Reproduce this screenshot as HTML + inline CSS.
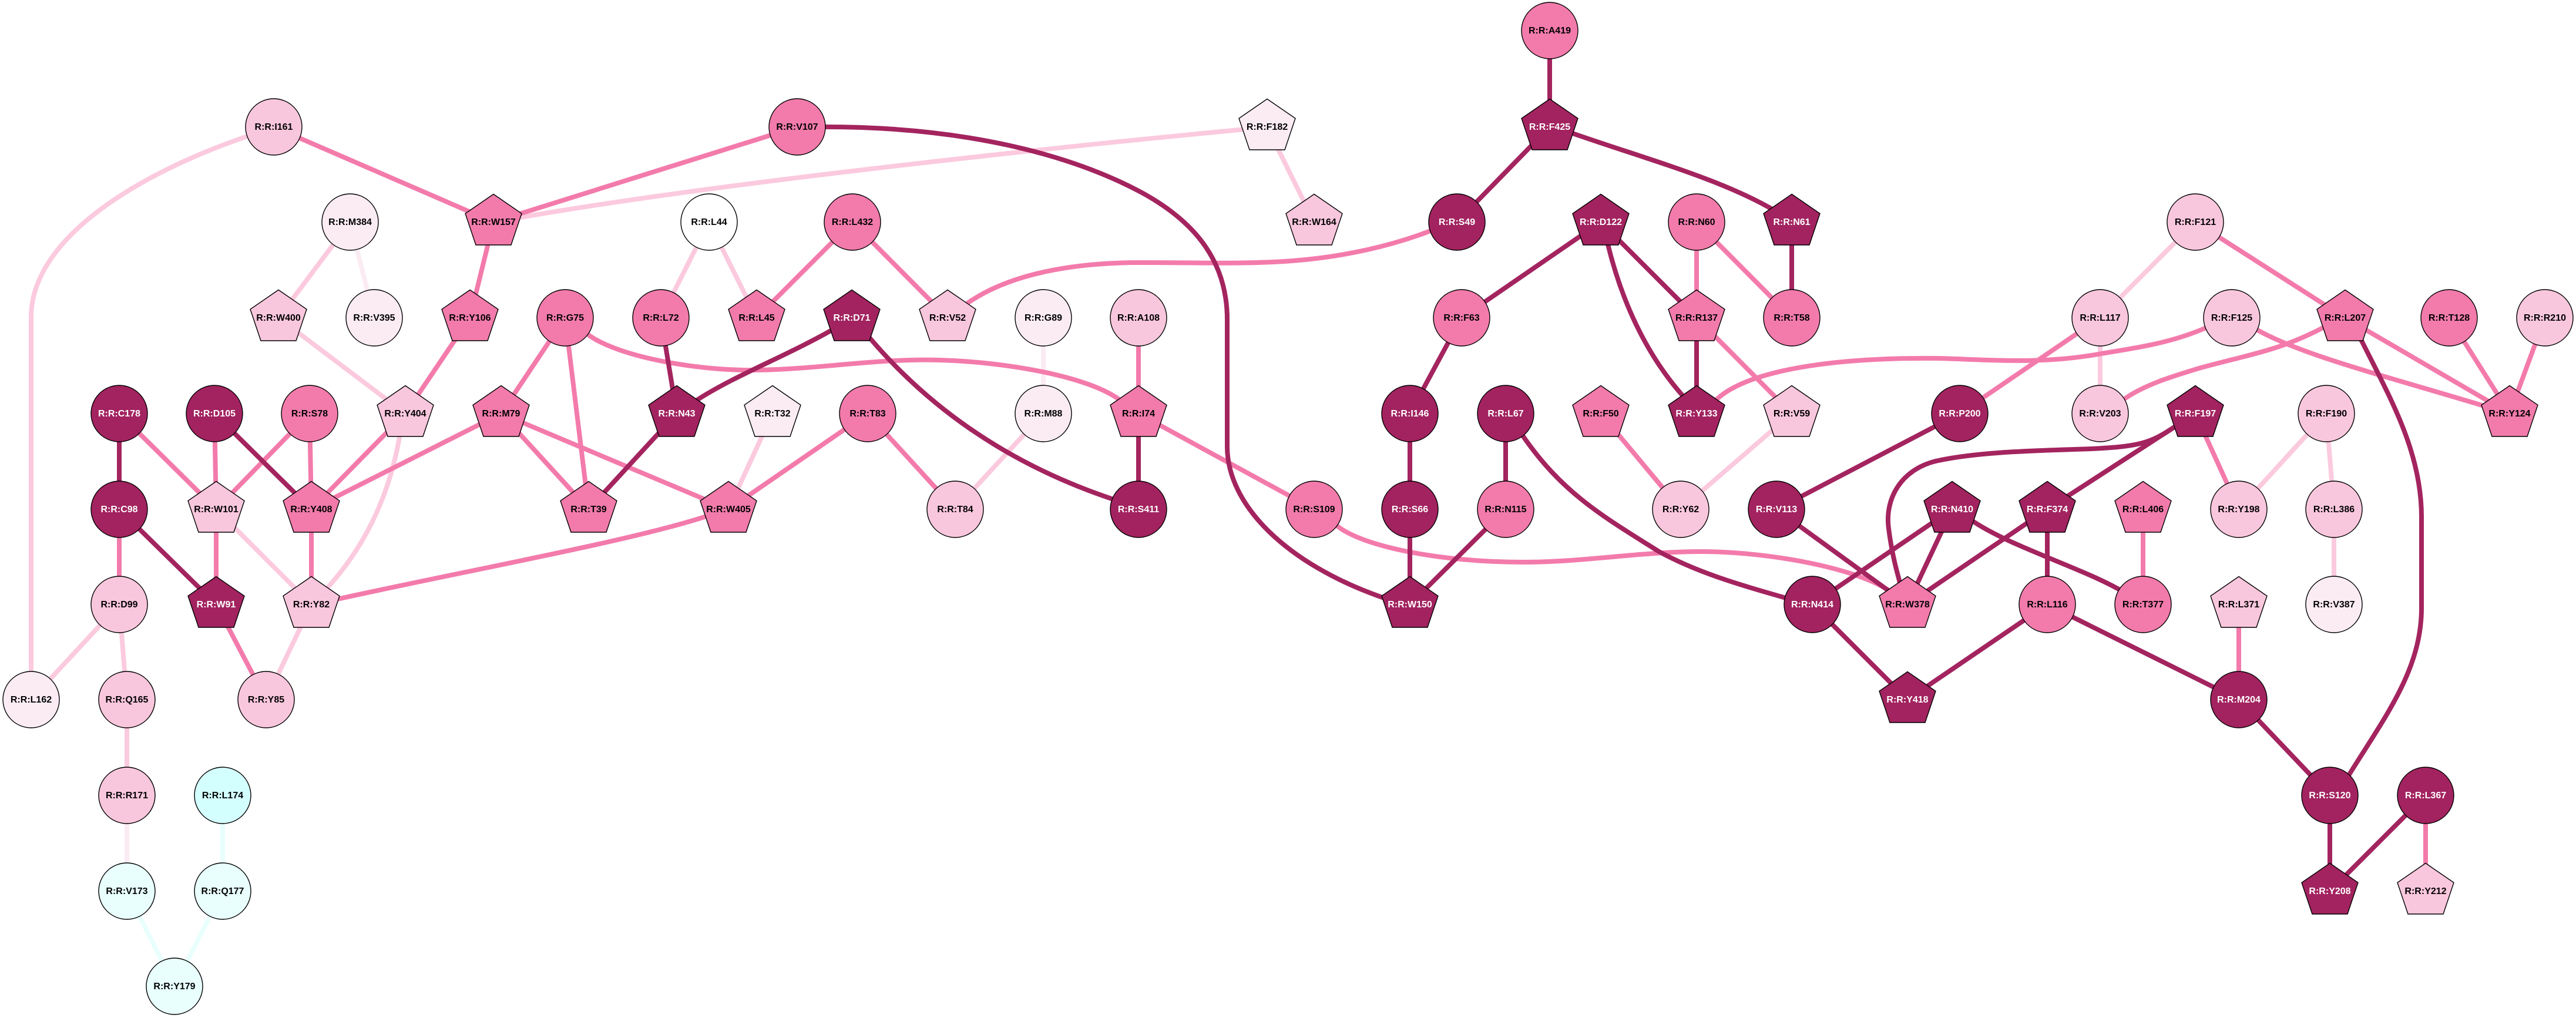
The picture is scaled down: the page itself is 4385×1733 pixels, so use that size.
<!DOCTYPE html>
<html><head><meta charset="utf-8"><title>R:R network</title>
<style>
html,body{margin:0;padding:0;background:#fff;width:4385px;height:1733px;overflow:hidden}
svg{display:block}
.e{fill:none;stroke-width:8}
.ed{stroke:#a3245f}.em{stroke:#f37bab}.el{stroke:#fbcade}.ep{stroke:#fbebf3}.ec{stroke:#e9fffd}
circle,use{stroke:#000;stroke-width:1.4}
.d{fill:#a2235f}.m{fill:#f27bab}.l{fill:#f9c7dd}.p{fill:#fbecf4}.w{fill:#fff}.c{fill:#d4ffff}.q{fill:#e8fffd}
text{font-family:"Liberation Sans",sans-serif;font-weight:bold;font-size:16px;text-anchor:middle;fill:#000}
text.t{fill:#fff}
</style></head><body>
<svg xmlns="http://www.w3.org/2000/svg" width="4385" height="1733" viewBox="0 0 4385 1733">
<defs><polygon id="g" points="0,-47.5 48,-14.5 30,39 -30,39 -48,-14.5"/></defs>
<rect width="4385" height="1733" fill="#fff"/>

<g class="e el">
<path d="M466,216 L421,232 C250,290 53,400 53,540 L53,1191"/>
<path d="M2157,216 L2120,220 C1750,255 1200,315 887,370 L840,378"/>
<path d="M2157,216 L2237,378"/>
<path d="M596,378 L474,541"/>
<path d="M474,541 L690,704"/>
<path d="M690,704 L680,744 C665,830 630,920 558,1000 L530,1029"/>
<path d="M1207,378 L1125,541"/>
<path d="M1207,378 L1288,541"/>
<path d="M1315,704 L1240,867"/>
<path d="M1776,704 L1626,867"/>
<path d="M3050,704 L2861,867"/>
<path d="M3737,378 L3575,541"/>
<path d="M3575,541 L3575,704"/>
<path d="M3960,704 L3811,867"/>
<path d="M3960,704 L3973,867"/>
<path d="M3973,867 L3973,1029"/>
<path d="M368,867 L530,1029"/>
<path d="M203,1029 L53,1191"/>
<path d="M203,1029 L216,1191"/>
<path d="M216,1191 L216,1354"/>
<path d="M530,1029 L453,1191"/>
</g>
<g class="e ep">
<path d="M596,378 L637,541"/>
<path d="M1776,541 L1776,704"/>
<path d="M216,1354 L216,1517"/>
</g>
<g class="e ec">
<path d="M379,1354 L379,1517"/>
<path d="M216,1517 L297,1679"/>
<path d="M379,1517 L297,1679"/>
</g>
<g class="e em">
<path d="M466,216 L840,378"/>
<path d="M1357,216 L840,378"/>
<path d="M840,378 L800,541"/>
<path d="M800,541 L690,704"/>
<path d="M962,541 L853,704"/>
<path d="M962,541 L1002,867"/>
<path d="M962,541 L1003,571 C1050,605 1180,632 1290,630 C1400,628 1490,610 1600,613 C1710,616 1850,640 1905,680 L1938,704"/>
<path d="M203,704 L368,867"/>
<path d="M365,704 L368,867"/>
<path d="M527,704 L368,867"/>
<path d="M527,704 L530,867"/>
<path d="M690,704 L530,867"/>
<path d="M853,704 L530,867"/>
<path d="M853,704 L1002,867"/>
<path d="M853,704 L1240,867"/>
<path d="M1451,378 L1288,541"/>
<path d="M1451,378 L1613,541"/>
<path d="M1477,704 L1240,867"/>
<path d="M1477,704 L1626,867"/>
<path d="M1938,541 L1938,704"/>
<path d="M1938,704 L2237,867"/>
<path d="M1613,541 L1647,516 C1720,465 1830,447 1940,447 C2050,447 2120,450 2200,444 C2290,437 2370,418 2435,393 L2480,378"/>
<path d="M2888,378 L2888,541"/>
<path d="M2888,378 L3050,541"/>
<path d="M2888,541 L3050,704"/>
<path d="M2725,704 L2861,867"/>
<path d="M2888,704 L2922,680 C2970,635 3100,608 3300,610 C3400,613 3480,620 3577,602 C3650,590 3700,582 3755,558 L3799,541"/>
<path d="M3336,704 L3575,541"/>
<path d="M3737,378 L3992,541"/>
<path d="M3799,541 L3843,562 C3920,605 4060,640 4225,690 L4272,704"/>
<path d="M3992,541 L4272,704"/>
<path d="M4169,541 L4272,704"/>
<path d="M4332,541 L4272,704"/>
<path d="M3992,541 L3954,558 C3880,597 3830,603 3743,627 C3700,640 3650,655 3615,680 L3575,704"/>
<path d="M3737,704 L3811,867"/>
<path d="M3648,867 L3648,1029"/>
<path d="M3811,1029 L3811,1191"/>
<path d="M4129,1354 L4129,1517"/>
<path d="M2237,867 L2277,896 C2320,930 2450,957 2593,957 C2700,957 2800,938 2901,939 C3010,940 3150,965 3212,1003 L3247,1029"/>
<path d="M1240,867 L1205,878 C1080,920 800,970 579,1019 L530,1029"/>
<path d="M368,867 L368,1029"/>
<path d="M530,867 L530,1029"/>
<path d="M203,867 L203,1029"/>
<path d="M368,1029 L453,1191"/>
</g>
<g class="e ed">
<path d="M203,704 L203,867"/>
<path d="M365,704 L530,867"/>
<path d="M1450,541 L1414,563 C1340,605 1250,640 1188,680 L1152,704"/>
<path d="M1450,541 L1482,577 C1570,680 1700,785 1895,850 L1938,867"/>
<path d="M1125,541 L1152,704"/>
<path d="M1152,704 L1002,867"/>
<path d="M1938,704 L1938,867"/>
<path d="M1357,216 L1405,216 C1640,216 1820,262 1942,327 C2040,380 2089,450 2089,544 L2089,760 C2089,860 2190,960 2353,1017 L2400,1029"/>
<path d="M2638,52 L2638,216"/>
<path d="M2638,216 L2480,378"/>
<path d="M2638,216 L2677,227 C2800,270 2930,305 3020,358 L3050,378"/>
<path d="M2725,378 L2488,541"/>
<path d="M2725,378 L2888,541"/>
<path d="M2725,378 L2737,416 C2760,510 2800,600 2863,672 L2888,704"/>
<path d="M3050,378 L3050,541"/>
<path d="M2888,541 L2888,704"/>
<path d="M2488,541 L2400,704"/>
<path d="M2400,704 L2400,867"/>
<path d="M2563,704 L2563,867"/>
<path d="M2563,704 L2593,743 C2660,840 2730,880 2824,939 C2890,975 2960,995 3040,1018 L3085,1029"/>
<path d="M2400,867 L2400,1029"/>
<path d="M2563,867 L2400,1029"/>
<path d="M3336,704 L3024,867"/>
<path d="M3024,867 L3247,1029"/>
<path d="M3992,541 L4020,580 C4070,680 4122,770 4122,880 L4122,1035 C4122,1140 4060,1220 3998,1320 L3966,1354"/>
<path d="M3737,704 L3701,727 C3660,755 3640,760 3560,764 C3480,767 3370,768 3295,785 C3235,800 3208,850 3215,900 C3220,940 3228,970 3235,995 L3247,1029"/>
<path d="M3737,704 L3485,867"/>
<path d="M3323,867 L3247,1029"/>
<path d="M3323,867 L3085,1029"/>
<path d="M3323,867 L3355,885 C3420,930 3540,965 3610,1005 L3648,1029"/>
<path d="M3485,867 L3247,1029"/>
<path d="M3485,867 L3485,1029"/>
<path d="M3485,1029 L3247,1191"/>
<path d="M3485,1029 L3811,1191"/>
<path d="M3085,1029 L3247,1191"/>
<path d="M3811,1191 L3966,1354"/>
<path d="M3966,1354 L3966,1517"/>
<path d="M4129,1354 L3966,1517"/>
<path d="M203,867 L368,1029"/>
</g>

<circle class="l" cx="466" cy="216" r="48"/><text x="466" y="221">R:R:I161</text>
<use class="m" href="#g" x="840" y="378"/><text x="840" y="383">R:R:W157</text>
<circle class="p" cx="596" cy="378" r="48"/><text x="596" y="383">R:R:M384</text>
<use class="l" href="#g" x="474" y="541"/><text x="474" y="546">R:R:W400</text>
<circle class="p" cx="637" cy="541" r="48"/><text x="637" y="546">R:R:V395</text>
<use class="m" href="#g" x="800" y="541"/><text x="800" y="546">R:R:Y106</text>
<circle class="m" cx="962" cy="541" r="48"/><text x="962" y="546">R:R:G75</text>
<circle class="d" cx="203" cy="704" r="48"/><text class="t" x="203" y="709">R:R:C178</text>
<circle class="d" cx="365" cy="704" r="48"/><text class="t" x="365" y="709">R:R:D105</text>
<circle class="m" cx="527" cy="704" r="48"/><text x="527" y="709">R:R:S78</text>
<use class="l" href="#g" x="690" y="704"/><text x="690" y="709">R:R:Y404</text>
<use class="m" href="#g" x="853" y="704"/><text x="853" y="709">R:R:M79</text>
<circle class="d" cx="203" cy="867" r="48"/><text class="t" x="203" y="872">R:R:C98</text>
<use class="l" href="#g" x="368" y="867"/><text x="368" y="872">R:R:W101</text>
<use class="m" href="#g" x="530" y="867"/><text x="530" y="872">R:R:Y408</text>
<use class="m" href="#g" x="1002" y="867"/><text x="1002" y="872">R:R:T39</text>
<circle class="m" cx="1357" cy="216" r="48"/><text x="1357" y="221">R:R:V107</text>
<use class="p" href="#g" x="2157" y="216"/><text x="2157" y="221">R:R:F182</text>
<circle class="w" cx="1207" cy="378" r="48"/><text x="1207" y="383">R:R:L44</text>
<circle class="m" cx="1451" cy="378" r="48"/><text x="1451" y="383">R:R:L432</text>
<circle class="m" cx="1125" cy="541" r="48"/><text x="1125" y="546">R:R:L72</text>
<use class="m" href="#g" x="1288" y="541"/><text x="1288" y="546">R:R:L45</text>
<use class="d" href="#g" x="1450" y="541"/><text class="t" x="1450" y="546">R:R:D71</text>
<use class="l" href="#g" x="1613" y="541"/><text x="1613" y="546">R:R:V52</text>
<circle class="p" cx="1776" cy="541" r="48"/><text x="1776" y="546">R:R:G89</text>
<circle class="l" cx="1938" cy="541" r="48"/><text x="1938" y="546">R:R:A108</text>
<use class="d" href="#g" x="1152" y="704"/><text class="t" x="1152" y="709">R:R:N43</text>
<use class="p" href="#g" x="1315" y="704"/><text x="1315" y="709">R:R:T32</text>
<circle class="m" cx="1477" cy="704" r="48"/><text x="1477" y="709">R:R:T83</text>
<circle class="p" cx="1776" cy="704" r="48"/><text x="1776" y="709">R:R:M88</text>
<use class="m" href="#g" x="1938" y="704"/><text x="1938" y="709">R:R:I74</text>
<use class="m" href="#g" x="1240" y="867"/><text x="1240" y="872">R:R:W405</text>
<circle class="l" cx="1626" cy="867" r="48"/><text x="1626" y="872">R:R:T84</text>
<circle class="d" cx="1938" cy="867" r="48"/><text class="t" x="1938" y="872">R:R:S411</text>
<circle class="m" cx="2638" cy="52" r="48"/><text x="2638" y="57">R:R:A419</text>
<use class="d" href="#g" x="2638" y="216"/><text class="t" x="2638" y="221">R:R:F425</text>
<use class="l" href="#g" x="2237" y="378"/><text x="2237" y="383">R:R:W164</text>
<circle class="d" cx="2480" cy="378" r="48"/><text class="t" x="2480" y="383">R:R:S49</text>
<use class="d" href="#g" x="2725" y="378"/><text class="t" x="2725" y="383">R:R:D122</text>
<circle class="m" cx="2888" cy="378" r="48"/><text x="2888" y="383">R:R:N60</text>
<use class="d" href="#g" x="3050" y="378"/><text class="t" x="3050" y="383">R:R:N61</text>
<circle class="m" cx="2488" cy="541" r="48"/><text x="2488" y="546">R:R:F63</text>
<use class="m" href="#g" x="2888" y="541"/><text x="2888" y="546">R:R:R137</text>
<circle class="m" cx="3050" cy="541" r="48"/><text x="3050" y="546">R:R:T58</text>
<circle class="d" cx="2400" cy="704" r="48"/><text class="t" x="2400" y="709">R:R:I146</text>
<circle class="d" cx="2563" cy="704" r="48"/><text class="t" x="2563" y="709">R:R:L67</text>
<use class="m" href="#g" x="2725" y="704"/><text x="2725" y="709">R:R:F50</text>
<use class="d" href="#g" x="2888" y="704"/><text class="t" x="2888" y="709">R:R:Y133</text>
<use class="l" href="#g" x="3050" y="704"/><text x="3050" y="709">R:R:V59</text>
<circle class="m" cx="2237" cy="867" r="48"/><text x="2237" y="872">R:R:S109</text>
<circle class="d" cx="2400" cy="867" r="48"/><text class="t" x="2400" y="872">R:R:S66</text>
<circle class="m" cx="2563" cy="867" r="48"/><text x="2563" y="872">R:R:N115</text>
<circle class="l" cx="2861" cy="867" r="48"/><text x="2861" y="872">R:R:Y62</text>
<circle class="d" cx="3024" cy="867" r="48"/><text class="t" x="3024" y="872">R:R:V113</text>
<circle class="l" cx="3737" cy="378" r="48"/><text x="3737" y="383">R:R:F121</text>
<circle class="l" cx="3575" cy="541" r="48"/><text x="3575" y="546">R:R:L117</text>
<circle class="l" cx="3799" cy="541" r="48"/><text x="3799" y="546">R:R:F125</text>
<use class="m" href="#g" x="3992" y="541"/><text x="3992" y="546">R:R:L207</text>
<circle class="m" cx="4169" cy="541" r="48"/><text x="4169" y="546">R:R:T128</text>
<circle class="l" cx="4332" cy="541" r="48"/><text x="4332" y="546">R:R:R210</text>
<circle class="d" cx="3336" cy="704" r="48"/><text class="t" x="3336" y="709">R:R:P200</text>
<circle class="l" cx="3575" cy="704" r="48"/><text x="3575" y="709">R:R:V203</text>
<use class="d" href="#g" x="3737" y="704"/><text class="t" x="3737" y="709">R:R:F197</text>
<circle class="l" cx="3960" cy="704" r="48"/><text x="3960" y="709">R:R:F190</text>
<use class="m" href="#g" x="4272" y="704"/><text x="4272" y="709">R:R:Y124</text>
<use class="d" href="#g" x="3323" y="867"/><text class="t" x="3323" y="872">R:R:N410</text>
<use class="d" href="#g" x="3485" y="867"/><text class="t" x="3485" y="872">R:R:F374</text>
<use class="m" href="#g" x="3648" y="867"/><text x="3648" y="872">R:R:L406</text>
<circle class="l" cx="3811" cy="867" r="48"/><text x="3811" y="872">R:R:Y198</text>
<circle class="l" cx="3973" cy="867" r="48"/><text x="3973" y="872">R:R:L386</text>
<circle class="l" cx="203" cy="1029" r="48"/><text x="203" y="1034">R:R:D99</text>
<use class="d" href="#g" x="368" y="1029"/><text class="t" x="368" y="1034">R:R:W91</text>
<use class="l" href="#g" x="530" y="1029"/><text x="530" y="1034">R:R:Y82</text>
<circle class="p" cx="53" cy="1191" r="48"/><text x="53" y="1196">R:R:L162</text>
<circle class="l" cx="216" cy="1191" r="48"/><text x="216" y="1196">R:R:Q165</text>
<circle class="l" cx="453" cy="1191" r="48"/><text x="453" y="1196">R:R:Y85</text>
<circle class="l" cx="216" cy="1354" r="48"/><text x="216" y="1359">R:R:R171</text>
<circle class="c" cx="379" cy="1354" r="48"/><text x="379" y="1359">R:R:L174</text>
<circle class="q" cx="216" cy="1517" r="48"/><text x="216" y="1522">R:R:V173</text>
<circle class="q" cx="379" cy="1517" r="48"/><text x="379" y="1522">R:R:Q177</text>
<circle class="q" cx="297" cy="1679" r="48"/><text x="297" y="1684">R:R:Y179</text>
<use class="d" href="#g" x="2400" y="1029"/><text class="t" x="2400" y="1034">R:R:W150</text>
<circle class="d" cx="3085" cy="1029" r="48"/><text class="t" x="3085" y="1034">R:R:N414</text>
<use class="m" href="#g" x="3247" y="1029"/><text x="3247" y="1034">R:R:W378</text>
<use class="d" href="#g" x="3247" y="1191"/><text class="t" x="3247" y="1196">R:R:Y418</text>
<circle class="m" cx="3485" cy="1029" r="48"/><text x="3485" y="1034">R:R:L116</text>
<circle class="m" cx="3648" cy="1029" r="48"/><text x="3648" y="1034">R:R:T377</text>
<use class="l" href="#g" x="3811" y="1029"/><text x="3811" y="1034">R:R:L371</text>
<circle class="p" cx="3973" cy="1029" r="48"/><text x="3973" y="1034">R:R:V387</text>
<circle class="d" cx="3811" cy="1191" r="48"/><text class="t" x="3811" y="1196">R:R:M204</text>
<circle class="d" cx="3966" cy="1354" r="48"/><text class="t" x="3966" y="1359">R:R:S120</text>
<circle class="d" cx="4129" cy="1354" r="48"/><text class="t" x="4129" y="1359">R:R:L367</text>
<use class="d" href="#g" x="3966" y="1517"/><text class="t" x="3966" y="1522">R:R:Y208</text>
<use class="l" href="#g" x="4129" y="1517"/><text x="4129" y="1522">R:R:Y212</text>
</svg>
</body></html>
